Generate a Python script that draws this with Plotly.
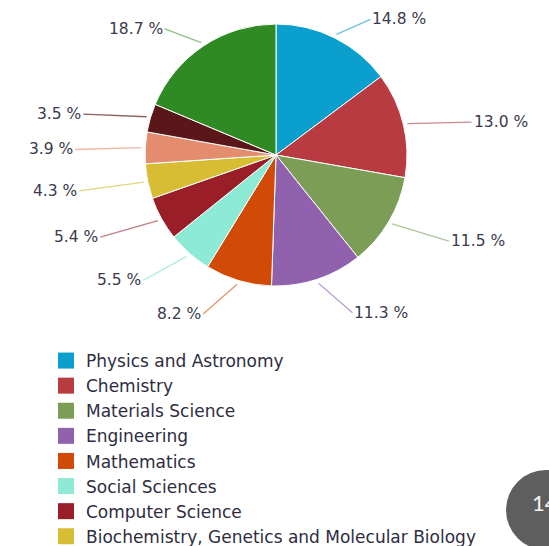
import math
import plotly.graph_objects as go

# ---------------- data ----------------
categories = [
    "Physics and Astronomy",
    "Chemistry",
    "Materials Science",
    "Engineering",
    "Mathematics",
    "Social Sciences",
    "Computer Science",
    "Biochemistry, Genetics and Molecular Biology",
    "Other 1",
    "Other 2",
    "Other 3",
]
shares = [14.8, 13.0, 11.5, 11.3, 8.2, 5.5, 5.4, 4.3, 3.9, 3.5, 18.7]
colors = [
    "#0a9fcd", "#b83b41", "#7c9d55", "#9062ae", "#d14b07", "#8deAd5",
    "#991e27", "#d8bd34", "#e38d6e", "#5a1719", "#2f8a23",
]
line_colors = [
    "#6cc3e3", "#d0878b", "#aec596", "#bc9fd0", "#e6956a", "#aeeedf",
    "#c27e84", "#e6d47c", "#efb8a4", "#8f5e60", "#8fc186",
]
legend_count = 8  # entries visible in the cropped reference
page_number = "14"

# ---------------- geometry (styling) ----------------
W, H = 549, 546
CX, CY, R = 276, 155, 131
LX, LY_TOP, LY_BOT, MINX, DY = 66, 20, 28, 34, 3
FONT = "DejaVu Sans, Open Sans, sans-serif"

fig = go.Figure()

fig.add_trace(go.Pie(
    labels=categories,
    values=shares,
    sort=False,
    direction="clockwise",
    rotation=0,
    marker=dict(colors=colors, line=dict(color="white", width=1)),
    textinfo="none",
    hoverinfo="label+value",
    showlegend=False,
    domain=dict(x=[(CX - R) / W, (CX + R) / W],
                y=[1 - (CY + R) / H, 1 - (CY - R) / H]),
))

# legend entries
for i in range(legend_count):
    fig.add_trace(go.Scatter(
        x=[None], y=[None], mode="markers", name=categories[i],
        marker=dict(symbol="square", size=16, color=colors[i]),
        showlegend=True, hoverinfo="skip",
    ))

# outside labels with leader lines, positioned from the data's angles
total = sum(shares)
cum = 0.0
annotations = []
for v, lc in zip(shares, line_colors):
    mid = (cum + v / 2) / total * 2 * math.pi
    cum += v
    s, c = math.sin(mid), math.cos(mid)
    hx = CX + (R + 4) * s
    hy = CY - (R + 4) * c
    ax = math.copysign(max(LX * abs(s), MINX), s)
    ay = -(LY_TOP if c > 0 else LY_BOT) * c + DY
    annotations.append(dict(
        x=hx / W, y=1 - hy / H, xref="paper", yref="paper",
        text=f"{v:.1f} %", showarrow=True, arrowhead=0, arrowwidth=1.3,
        arrowcolor=lc, ax=ax, ay=ay,
        xanchor="left" if s > 0 else "right",
        yanchor="middle",
        font=dict(family=FONT, size=15.5, color="#3a3a4c"),
    ))

# page number badge
annotations.append(dict(
    x=530 / W, y=1 - 503 / H, xref="paper", yref="paper", text=page_number,
    showarrow=False, xanchor="left", yanchor="middle",
    font=dict(family="Lato, sans-serif", size=22, color="#f2f2f2"),
))

fig.update_layout(
    width=W, height=H,
    margin=dict(l=0, r=0, t=0, b=0, autoexpand=False),
    paper_bgcolor="white", plot_bgcolor="white",
    xaxis=dict(visible=False), yaxis=dict(visible=False),
    showlegend=True,
    legend=dict(
        x=46 / W, y=1 - 343 / H, xanchor="left", yanchor="top",
        font=dict(family=FONT, size=17, color="#2d2d3f"),
        itemsizing="trace", tracegroupgap=0, bgcolor="rgba(0,0,0,0)",
    ),
    annotations=annotations,
    shapes=[dict(type="circle", xref="paper", yref="paper",
                 x0=506 / W, x1=586 / W, y0=1 - 550 / H, y1=1 - 470 / H,
                 fillcolor="#5e5e5e", line=dict(width=0), layer="below")],
)

fig.write_html("out.html", post_script="document.body.style.margin='0';",
               config={"displayModeBar": False})
